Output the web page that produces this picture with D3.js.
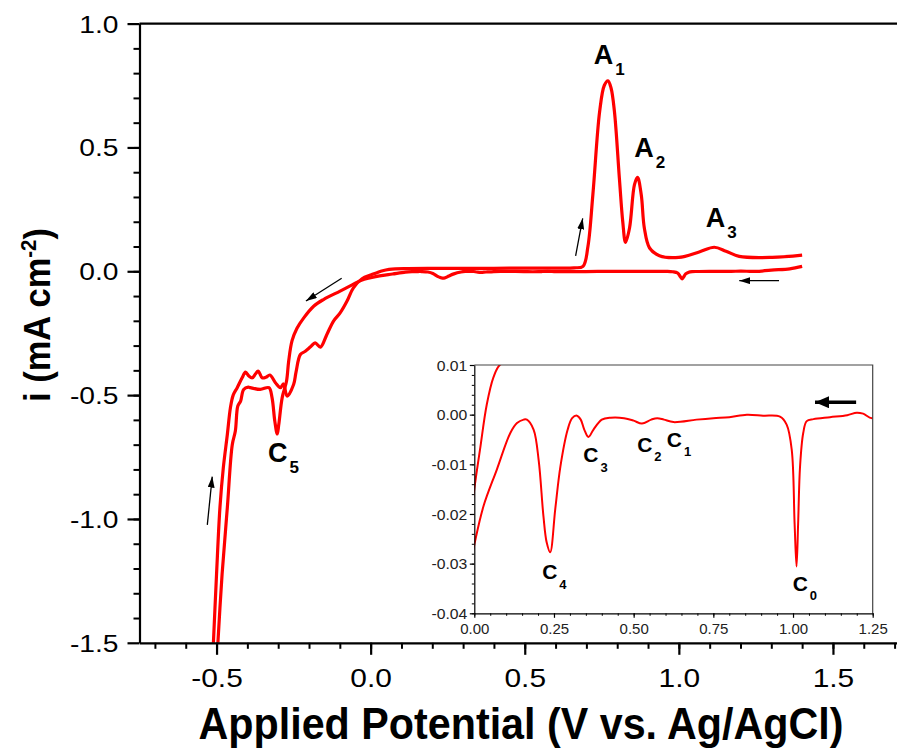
<!DOCTYPE html>
<html>
<head>
<meta charset="utf-8">
<script src="https://cdn.jsdelivr.net/npm/d3@7"></script>
<style>
  body { margin: 0; background: #fff; }
  svg { display: block; font-family: "Liberation Sans", Arial, sans-serif; }
</style>
</head>
<body>
<div id="chart"></div>
<script>
// forward (anodic) sweep, [potential V vs Ag/AgCl, current mA cm^-2]
const forwardScan = [
    [-0.512, -1.55], [-0.500, -1.223], [-0.489, -0.954], [-0.478, -0.793], [-0.465, -0.659],
    [-0.455, -0.551], [-0.446, -0.500], [-0.433, -0.470], [-0.417, -0.430], [-0.406, -0.407],
    [-0.395, -0.423], [-0.384, -0.430], [-0.374, -0.415], [-0.365, -0.403], [-0.352, -0.430],
    [-0.340, -0.428], [-0.327, -0.419], [-0.309, -0.450], [-0.293, -0.470], [-0.283, -0.455],
    [-0.271, -0.504], [-0.250, -0.457], [-0.242, -0.406], [-0.228, -0.336], [-0.212, -0.323],
    [-0.195, -0.305], [-0.180, -0.289], [-0.163, -0.306], [-0.142, -0.255], [-0.120, -0.200],
    [-0.099, -0.168], [-0.077, -0.121], [-0.056, -0.067], [-0.028, -0.030], [0.000, -0.015],
    [0.018, -0.007], [0.039, 0.002], [0.060, 0.0075], [0.080, 0.010], [0.120, 0.011],
    [0.200, 0.012], [0.300, 0.012], [0.400, 0.012], [0.500, 0.013], [0.600, 0.013],
    [0.660, 0.014], [0.689, 0.020], [0.705, 0.100], [0.721, 0.309], [0.743, 0.645],
    [0.758, 0.750], [0.770, 0.769], [0.780, 0.740], [0.791, 0.645], [0.807, 0.376],
    [0.818, 0.200], [0.827, 0.117], [0.840, 0.175], [0.856, 0.350], [0.866, 0.379],
    [0.878, 0.309], [0.888, 0.175], [0.905, 0.094], [0.937, 0.063], [1.000, 0.056],
    [1.066, 0.078], [1.115, 0.097], [1.153, 0.081], [1.196, 0.060], [1.303, 0.056],
    [1.400, 0.065]
];

// reverse (cathodic) sweep, from 1.4 V back down
const reverseScan = [
    [1.400, 0.020], [1.360, 0.010], [1.300, 0.005], [1.250, -0.0007], [1.220, 0.0002],
    [1.200, 0.0004], [1.170, -0.0001], [1.116, -0.0005], [1.064, -0.0009], [1.043, -0.0013],
    [1.032, -0.0037], [1.022, -0.0105], [1.016, -0.0220], [1.011, -0.0306], [1.005, -0.0220],
    [0.996, -0.0071], [0.980, -0.0020], [0.959, -0.0004], [0.906, -0.0002], [0.855, 0.0000],
    [0.800, -0.0005], [0.750, -0.0007], [0.697, -0.0010], [0.625, -0.0015], [0.595, -0.0010],
    [0.574, -0.0007], [0.555, -0.0010], [0.526, -0.0018], [0.500, -0.0012], [0.470, -0.0007],
    [0.428, -0.0006], [0.400, -0.0010], [0.374, -0.0030], [0.358, -0.0045], [0.345, -0.0030],
    [0.334, -0.0010], [0.322, -0.0002], [0.307, -0.0007], [0.293, -0.0030], [0.270, -0.0105],
    [0.254, -0.0190], [0.238, -0.0277], [0.227, -0.0257], [0.217, -0.0205], [0.202, -0.0092],
    [0.186, -0.0030], [0.165, -0.0010], [0.155, -0.0010], [0.134, -0.0017], [0.113, -0.0037],
    [0.071, -0.0110], [0.029, -0.0184], [0.000, -0.0262], [-0.030, -0.036], [-0.060, -0.055],
    [-0.099, -0.080], [-0.153, -0.114], [-0.185, -0.141], [-0.217, -0.188], [-0.239, -0.230],
    [-0.255, -0.280], [-0.266, -0.363], [-0.273, -0.444], [-0.287, -0.510], [-0.298, -0.618],
    [-0.303, -0.657], [-0.311, -0.605], [-0.320, -0.510], [-0.330, -0.470], [-0.358, -0.477],
    [-0.390, -0.470], [-0.397, -0.468], [-0.412, -0.477], [-0.422, -0.524], [-0.431, -0.544],
    [-0.439, -0.645], [-0.449, -0.700], [-0.465, -0.954], [-0.482, -1.223], [-0.498, -1.55]
];

const mainXTicks = [-0.5, 0.0, 0.5, 1.0, 1.5];
const mainYTicks = [-1.5, -1.0, -0.5, 0.0, 0.5, 1.0];
const insetXTicks = [0.00, 0.25, 0.50, 0.75, 1.00, 1.25];
const insetYTicks = [-0.04, -0.03, -0.02, -0.01, 0.00, 0.01];

// peak labels, anchored in data units
const mainPeaks = [
    { base: "A", sub: "1", v: 0.724, i: 0.835 },
    { base: "A", sub: "2", v: 0.855, i: 0.463 },
    { base: "A", sub: "3", v: 1.087, i: 0.180 },
    { base: "C", sub: "5", v: -0.333, i: -0.769 }
];
const insetPeaks = [
    { base: "C", sub: "0", v: 0.999, i: -0.0355 },
    { base: "C", sub: "1", v: 0.604, i: -0.00645 },
    { base: "C", sub: "2", v: 0.511, i: -0.00746 },
    { base: "C", sub: "3", v: 0.342, i: -0.0096 },
    { base: "C", sub: "4", v: 0.213, i: -0.0331 }
];

// scan direction arrows, [tail, tip]
const mainArrows = [
    [[-0.530, -1.024], [-0.514, -0.829]],
    [[-0.094, -0.028], [-0.210, -0.120]],
    [[0.665, 0.062], [0.688, 0.214]],
    [[1.325, -0.038], [1.196, -0.038]]
];
const insetArrows = [
    [[1.198, 0.0025], [1.069, 0.0025]]
];

const width = 897, height = 750;
const red = "#ff0000";

let svg = d3.select("#chart").append("svg")
    .attr("width", width)
    .attr("height", height);
svg.append("rect").attr("width", width).attr("height", height).attr("fill", "#fff");

let defs = svg.append("defs");

// main scales
let x = d3.scaleLinear().domain([-0.75, 1.75]).range([139.5, 910]);
let y = d3.scaleLinear().domain([-1.5, 1.0]).range([642.8, 23.6]);

// inset scales
let ix = d3.scaleLinear().domain([0, 1.25]).range([474.3, 872.7]);
let iy = d3.scaleLinear().domain([-0.04, 0.01]).range([613.3, 365]);

defs.append("clipPath").attr("id", "mainClip").append("rect")
    .attr("x", x(-0.75)).attr("y", y(1.0))
    .attr("width", x(1.75) - x(-0.75)).attr("height", y(-1.5) - y(1.0));
defs.append("clipPath").attr("id", "insetClip").append("rect")
    .attr("x", ix(0)).attr("y", iy(0.01))
    .attr("width", ix(1.25) - ix(0)).attr("height", iy(-0.04) - iy(0.01));

// arrow heads
function addHead(id, len, wide) {
    defs.append("marker")
        .attr("id", id)
        .attr("viewBox", "0 0 10 10")
        .attr("refX", 10).attr("refY", 5)
        .attr("markerWidth", len).attr("markerHeight", wide)
        .attr("markerUnits", "userSpaceOnUse")
        .attr("preserveAspectRatio", "none")
        .attr("orient", "auto")
        .append("path").attr("d", "M0,0L10,5L0,10Z").attr("fill", "#000");
}
addHead("headSmall", 11, 7);
addHead("headBig", 14, 12);

function fixed(n) { return d => d.toFixed(n); }
function minorRange(a, b, step) {
    return d3.range(Math.round((b - a) / step) + 1).map(k => +(a + k * step).toFixed(4));
}

// ---------- main plot ----------
let mainLine = d3.line()
    .x(d => x(d[0]))
    .y(d => y(d[1]))
    .curve(d3.curveCatmullRom.alpha(0.5));

svg.append("g").attr("clip-path", "url(#mainClip)")
    .selectAll("path")
    .data([forwardScan, reverseScan])
    .join("path")
    .attr("d", mainLine)
    .attr("fill", "none")
    .attr("stroke", red)
    .attr("stroke-width", 3.2)
    .attr("stroke-linejoin", "round");

// top frame line
svg.append("line")
    .attr("x1", x(-0.75)).attr("x2", x(1.75))
    .attr("y1", y(1.0)).attr("y2", y(1.0))
    .attr("stroke", "#000").attr("stroke-width", 2.2);

// minor ticks
svg.append("g")
    .attr("transform", `translate(0,${y(-1.5)})`)
    .call(d3.axisBottom(x).tickValues(minorRange(-0.7, 1.7, 0.1)).tickSize(6).tickFormat("").tickSizeOuter(0))
    .call(g => g.select(".domain").remove())
    .selectAll("line").attr("stroke-width", 2);
svg.append("g")
    .attr("transform", `translate(${x(-0.75)},0)`)
    .call(d3.axisLeft(y).tickValues(minorRange(-1.4, 0.9, 0.1)).tickSize(6).tickFormat("").tickSizeOuter(0))
    .call(g => g.select(".domain").remove())
    .selectAll("line").attr("stroke-width", 2);

// major axes
let xAxis = svg.append("g")
    .attr("transform", `translate(0,${y(-1.5)})`)
    .call(d3.axisBottom(x).tickValues(mainXTicks).tickSize(12).tickSizeOuter(0).tickFormat(fixed(1)));
xAxis.selectAll("path, line").attr("stroke-width", 2.2);
xAxis.selectAll("text")
    .attr("font-size", 26)
    .attr("font-family", "Liberation Sans, Arial, sans-serif")
    .attr("y", 44.5).attr("dy", 0)
    .attr("transform", "scale(1.15,1)")
    .attr("x", 0);

let yAxis = svg.append("g")
    .attr("transform", `translate(${x(-0.75)},0)`)
    .call(d3.axisLeft(y).tickValues(mainYTicks).tickSize(12).tickSizeOuter(0).tickFormat(fixed(1)));
yAxis.selectAll("path, line").attr("stroke-width", 2.2);
yAxis.selectAll("text")
    .attr("font-size", 23.5)
    .attr("font-family", "Liberation Sans, Arial, sans-serif")
    .attr("x", -21 / 1.2).attr("dy", "0.36em")
    .attr("transform", "scale(1.2,1)");

// axis titles
svg.append("text")
    .attr("x", 521).attr("y", 739)
    .attr("text-anchor", "middle")
    .attr("font-size", 44).attr("font-weight", "bold")
    .attr("textLength", 645).attr("lengthAdjust", "spacingAndGlyphs")
    .text("Applied Potential (V vs. Ag/AgCl)");

let yTitle = svg.append("text")
    .attr("transform", "translate(50,315) rotate(-90)")
    .attr("text-anchor", "middle")
    .attr("font-size", 37).attr("font-weight", "bold")
    .attr("textLength", 174).attr("lengthAdjust", "spacingAndGlyphs");
yTitle.append("tspan").text("i (mA cm");
yTitle.append("tspan").attr("font-size", 22).attr("dy", -14).text("-2");
yTitle.append("tspan").attr("dy", 14).text(")");

// peak labels
function drawLabels(data, sx, sy, size, subSize, subDy) {
    let t = svg.append("g").selectAll("text")
        .data(data)
        .join("text")
        .attr("x", d => sx(d.v))
        .attr("y", d => sy(d.i))
        .attr("font-size", size)
        .attr("font-weight", "bold");
    t.append("tspan").text(d => d.base);
    t.append("tspan").attr("font-size", subSize).attr("dx", 2).attr("dy", subDy).text(d => d.sub);
}
drawLabels(mainPeaks, x, y, 27, 17, 11);

function drawArrows(data, sx, sy, w, head) {
    svg.append("g").selectAll("line")
        .data(data)
        .join("line")
        .attr("x1", d => sx(d[0][0])).attr("y1", d => sy(d[0][1]))
        .attr("x2", d => sx(d[1][0])).attr("y2", d => sy(d[1][1]))
        .attr("stroke", "#000")
        .attr("stroke-width", w)
        .attr("marker-end", `url(#${head})`);
}
drawArrows(mainArrows, x, y, 1.3, "headSmall");

// ---------- inset ----------
svg.append("rect")
    .attr("x", ix(0)).attr("y", iy(0.01))
    .attr("width", ix(1.25) - ix(0)).attr("height", iy(-0.04) - iy(0.01))
    .attr("fill", "#fff");

let insetLine = d3.line()
    .x(d => ix(d[0]))
    .y(d => iy(d[1]))
    .curve(d3.curveCatmullRom.alpha(0.5));

svg.append("g").attr("clip-path", "url(#insetClip)")
    .selectAll("path")
    .data([forwardScan, reverseScan])
    .join("path")
    .attr("d", insetLine)
    .attr("fill", "none")
    .attr("stroke", red)
    .attr("stroke-width", 2)
    .attr("stroke-linejoin", "round");

// top / right frame of the inset
svg.append("path")
    .attr("d", `M${ix(0)},${iy(0.01)}H${ix(1.25)}V${iy(-0.04)}`)
    .attr("fill", "none").attr("stroke", "#444").attr("stroke-width", 1.2);

svg.append("g")
    .attr("transform", `translate(0,${iy(-0.04)})`)
    .call(d3.axisBottom(ix).tickValues(minorRange(0, 1.25, 0.05)).tickSize(2.5).tickFormat("").tickSizeOuter(0))
    .call(g => g.select(".domain").remove());
svg.append("g")
    .attr("transform", `translate(${ix(0)},0)`)
    .call(d3.axisLeft(iy).tickValues(minorRange(-0.04, 0.01, 0.002)).tickSize(2.5).tickFormat("").tickSizeOuter(0))
    .call(g => g.select(".domain").remove());

let ixAxis = svg.append("g")
    .attr("transform", `translate(0,${iy(-0.04)})`)
    .call(d3.axisBottom(ix).tickValues(insetXTicks).tickSize(4.5).tickSizeOuter(0).tickFormat(fixed(2)));
ixAxis.selectAll("path, line").attr("stroke-width", 1.2);
ixAxis.selectAll("text")
    .attr("font-size", 15)
    .attr("font-family", "Liberation Sans, Arial, sans-serif")
    .attr("y", 20.7).attr("dy", 0)
    .attr("fill", "#222");

let iyAxis = svg.append("g")
    .attr("transform", `translate(${ix(0)},0)`)
    .call(d3.axisLeft(iy).tickValues(insetYTicks).tickSize(4.5).tickSizeOuter(0).tickFormat(fixed(2)));
iyAxis.selectAll("path, line").attr("stroke-width", 1.2);
iyAxis.selectAll("text")
    .attr("font-size", 15)
    .attr("font-family", "Liberation Sans, Arial, sans-serif")
    .attr("x", -7 / 1.05).attr("dy", "0.35em")
    .attr("transform", "scale(1.05,1)")
    .attr("fill", "#222");

drawLabels(insetPeaks, ix, iy, 21, 13, 9.5);
drawArrows(insetArrows, ix, iy, 3.5, "headBig");
</script>
</body>
</html>
